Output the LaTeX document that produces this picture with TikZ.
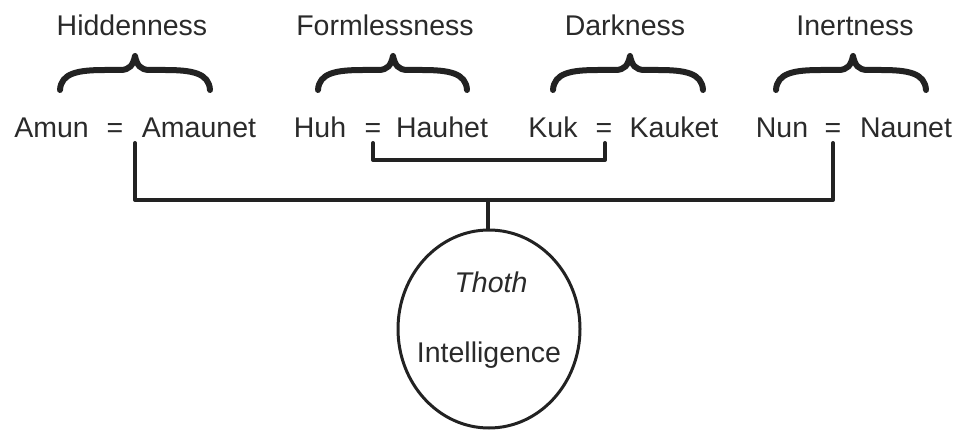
\documentclass[tikz,border=0pt]{standalone}
\usepackage{fontspec}
\setmainfont{Liberation Sans}
\usetikzlibrary{shapes.geometric}
\definecolor{ink}{HTML}{222222}
\definecolor{txt}{HTML}{2A2A2A}
\tikzset{
  lbl/.style={inner sep=0pt, anchor=base, text=txt, font=\fontsize{28.5}{30}\selectfont},
  conn/.style={draw=ink, line width=4pt, line cap=round, line join=round},
  bracestyle/.style={draw=ink, line width=6pt, line cap=round, line join=round},
  godcircle/.style={ellipse, draw=ink, line width=3pt, minimum width=182pt, minimum height=198pt, inner sep=0pt}
}
\newcommand{\mybrace}[3]{% left x, tip x, right x
  \draw[bracestyle] (#1,90) .. controls (#1+1,73) and (#1+18,70) .. (#1+45,70)
     -- (#2-15,70) .. controls (#2-5,70) and (#2-2,65) .. (#2,56)
     .. controls (#2+2,65) and (#2+5,70) .. (#2+15,70)
     -- (#3-45,70) .. controls (#3-18,70) and (#3-1,73) .. (#3,90);}
\begin{document}
\begin{tikzpicture}[x=1pt,y=-1pt]
\useasboundingbox (0,0) rectangle (958,430);
% headings
\node[lbl] (hid) at (132,36) {Hiddenness};
\node[lbl] (form) at (385,36) {Formlessness};
\node[lbl] (dark) at (625,36) {Darkness};
\node[lbl] (inert) at (855,36) {Inertness};
% braces
\mybrace{60}{135}{210}
\mybrace{318}{393}{467}
\mybrace{553}{630}{703}
\mybrace{776}{853}{926}
% names
\node[lbl] (amun) at (51.5,138) {Amun};
\node[lbl] (eq1) at (115,138) {=};
\node[lbl] (amaunet) at (199,138) {Amaunet};
\node[lbl] (huh) at (320,138) {Huh};
\node[lbl] (eq2) at (373,138) {=};
\node[lbl] (hauhet) at (442,138) {Hauhet};
\node[lbl] (kuk) at (553,138) {Kuk};
\node[lbl] (eq3) at (604,138) {=};
\node[lbl] (kauket) at (674,138) {Kauket};
\node[lbl] (nun) at (782,138) {Nun};
\node[lbl] (eq4) at (833,138) {=};
\node[lbl] (naunet) at (906,138) {Naunet};
% circle
\node[godcircle] (thoth) at (489,329) {};
\node[lbl, font=\fontsize{28.5}{30}\selectfont\itshape] (thothname) at (491,292) {Thoth};
\node[lbl] (intel) at (489,362) {Intelligence};
% connectors
\coordinate (a1) at (135,143);
\coordinate (a2) at (833,143);
\coordinate (barL) at (135,200);
\coordinate (barR) at (833,200);
\coordinate (hub) at (488,200);
\coordinate (h1) at (373,143);
\coordinate (h2) at (605,143);
\draw[conn] (a1) -- (barL) -- (barR) -- (a2);
\draw[conn] (h1) |- (605,160) -- (h2);
\draw[conn] (hub) -- (hub |- thoth.north);
\end{tikzpicture}
\end{document}
